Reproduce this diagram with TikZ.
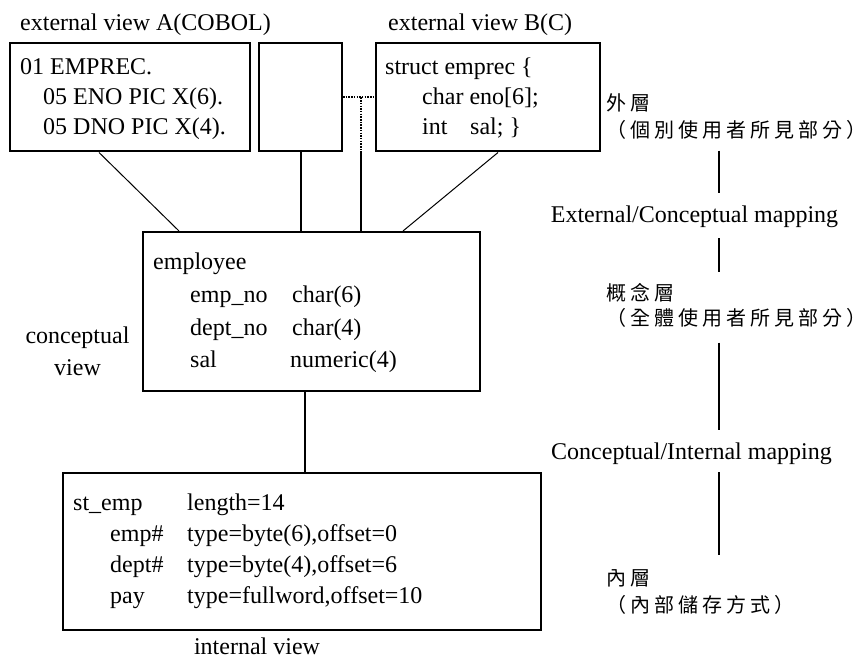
\documentclass[tikz,border=0pt]{standalone}
\usepackage{fontspec}
\setmainfont{Liberation Serif}
\newfontfamily\cjkfont[LetterSpace=20]{Noto Sans CJK TC}
\usetikzlibrary{positioning}
\tikzset{
  viewbox/.style={rectangle, draw, line width=2pt, inner sep=0pt},
  txt/.style={anchor=base west, inner sep=0pt, font=\fontsize{24}{29}\selectfont},
  ctxt/.style={txt, anchor=base},
  cjk/.style={inner sep=0pt, font=\fontsize{20}{24}\selectfont\cjkfont},
  thinlink/.style={line width=1pt},
  thicklink/.style={line width=2pt},
  dotlink/.style={line width=2pt, dash pattern=on 1.5pt off 1.2pt},
}
\begin{document}
\begin{tikzpicture}[x=1pt, y=-1pt]
  \useasboundingbox (0,0) rectangle (867,660);
  % External views
  \node[viewbox, minimum width=240pt, minimum height=108pt] (extA) at (130,97.5) {};
  \node[viewbox, minimum width=83pt, minimum height=108pt] (extM) at (300.5,97.5) {};
  \node[viewbox, minimum width=224pt, minimum height=108pt] (extB) at (488,97.5) {};
  \node[txt] (titleA) at (20,31) {external view A(COBOL)};
  \node[txt] (titleB) at (388,31) {external view B(C)};
  \node[txt] (a1) at (20,75) {01 EMPREC.};
  \node[txt] (a2) at (43,105) {05 ENO PIC X(6).};
  \node[txt] (a3) at (43,135) {05 DNO PIC X(4).};
  \node[txt] (b1) at (385,75) {struct emprec \{};
  \node[txt] (b2) at (422,105) {char eno[6];};
  \node[txt] (b3) at (422,135) {int};
  \node[txt] (b4) at (470,135) {sal; \}};
  % Conceptual view
  \node[viewbox, minimum width=337pt, minimum height=159pt] (concept) at (311.5,311.5) {};
  \node[txt] (c0) at (153,270) {employee};
  \node[txt] (c1) at (190,302) {emp\_no};
  \node[txt] (c1t) at (292,302) {char(6)};
  \node[txt] (c2) at (190,335) {dept\_no};
  \node[txt] (c2t) at (292,335) {char(4)};
  \node[txt] (c3) at (190,367) {sal};
  \node[txt] (c3t) at (290,367) {numeric(4)};
  \node[ctxt] (conceptA) at (77.5,343) {conceptual};
  \node[ctxt] (conceptB) at (77.5,375) {view};
  % Internal view
  \node[viewbox, minimum width=478pt, minimum height=157pt] (inner) at (302,551.5) {};
  \node[txt] (i0) at (73,510) {st\_emp};
  \node[txt] (i0t) at (187,510) {length=14};
  \node[txt] (i1) at (110,541) {emp\#};
  \node[txt] (i1t) at (187,541) {type=byte(6),offset=0};
  \node[txt] (i2) at (110,572) {dept\#};
  \node[txt] (i2t) at (187,572) {type=byte(4),offset=6};
  \node[txt] (i3) at (110,603) {pay};
  \node[txt] (i3t) at (187,603) {type=fullword,offset=10};
  \node[ctxt] (innerName) at (257,654) {internal view};
  % Links between views
  \draw[thinlink] ([xshift=90pt]extA.south west) -- ([xshift=37pt]concept.north west);
  \draw[thicklink] (extM.south) -- (extM.south |- concept.north);
  \draw[dotlink] (extM.east) -- (extB.west);
  \draw[dotlink] ([xshift=18pt]extM.east) coordinate (tee) -- (tee |- extB.south);
  \draw[thicklink] (tee |- extB.south) -- (tee |- concept.north);
  \draw[thinlink] ([xshift=123pt]extB.south west) -- ([xshift=-78pt]concept.north east);
  \draw[thicklink] ([xshift=-6.5pt]concept.south) -- ([xshift=-6.5pt]concept.south |- inner.north);
  % Level labels
  \node[cjk, anchor=west] (outerLbl) at (606,102.5) {外層};
  \node[cjk] (outerSub) at (736,129.5) {（個別使用者所見部分）};
  \node[ctxt] (mapEC) at (694.5,223) {External/Conceptual mapping};
  \node[cjk, anchor=west] (concLbl) at (606,292.5) {概念層};
  \node[cjk] (concSub) at (736,318) {（全體使用者所見部分）};
  \node[ctxt] (mapCI) at (691.5,459) {Conceptual/Internal mapping};
  \node[cjk, anchor=west] (innerLbl) at (606,578) {內層};
  \node[cjk] (innerSub) at (700,605) {（內部儲存方式）};
  \coordinate (lineX) at (719,0);
  \draw[thicklink, shorten <=11.5pt, shorten >=13.5pt] (outerSub.south -| lineX) -- (mapEC.north -| lineX);
  \draw[thicklink, shorten <=10pt, shorten >=10.5pt] (mapEC.south -| lineX) -- (concLbl.north -| lineX);
  \draw[thicklink, shorten <=15pt, shorten >=12.5pt] (concSub.south -| lineX) -- (mapCI.north -| lineX);
  \draw[thicklink, shorten <=8pt, shorten >=14pt] (mapCI.south -| lineX) -- (innerLbl.north -| lineX);
\end{tikzpicture}
\end{document}
